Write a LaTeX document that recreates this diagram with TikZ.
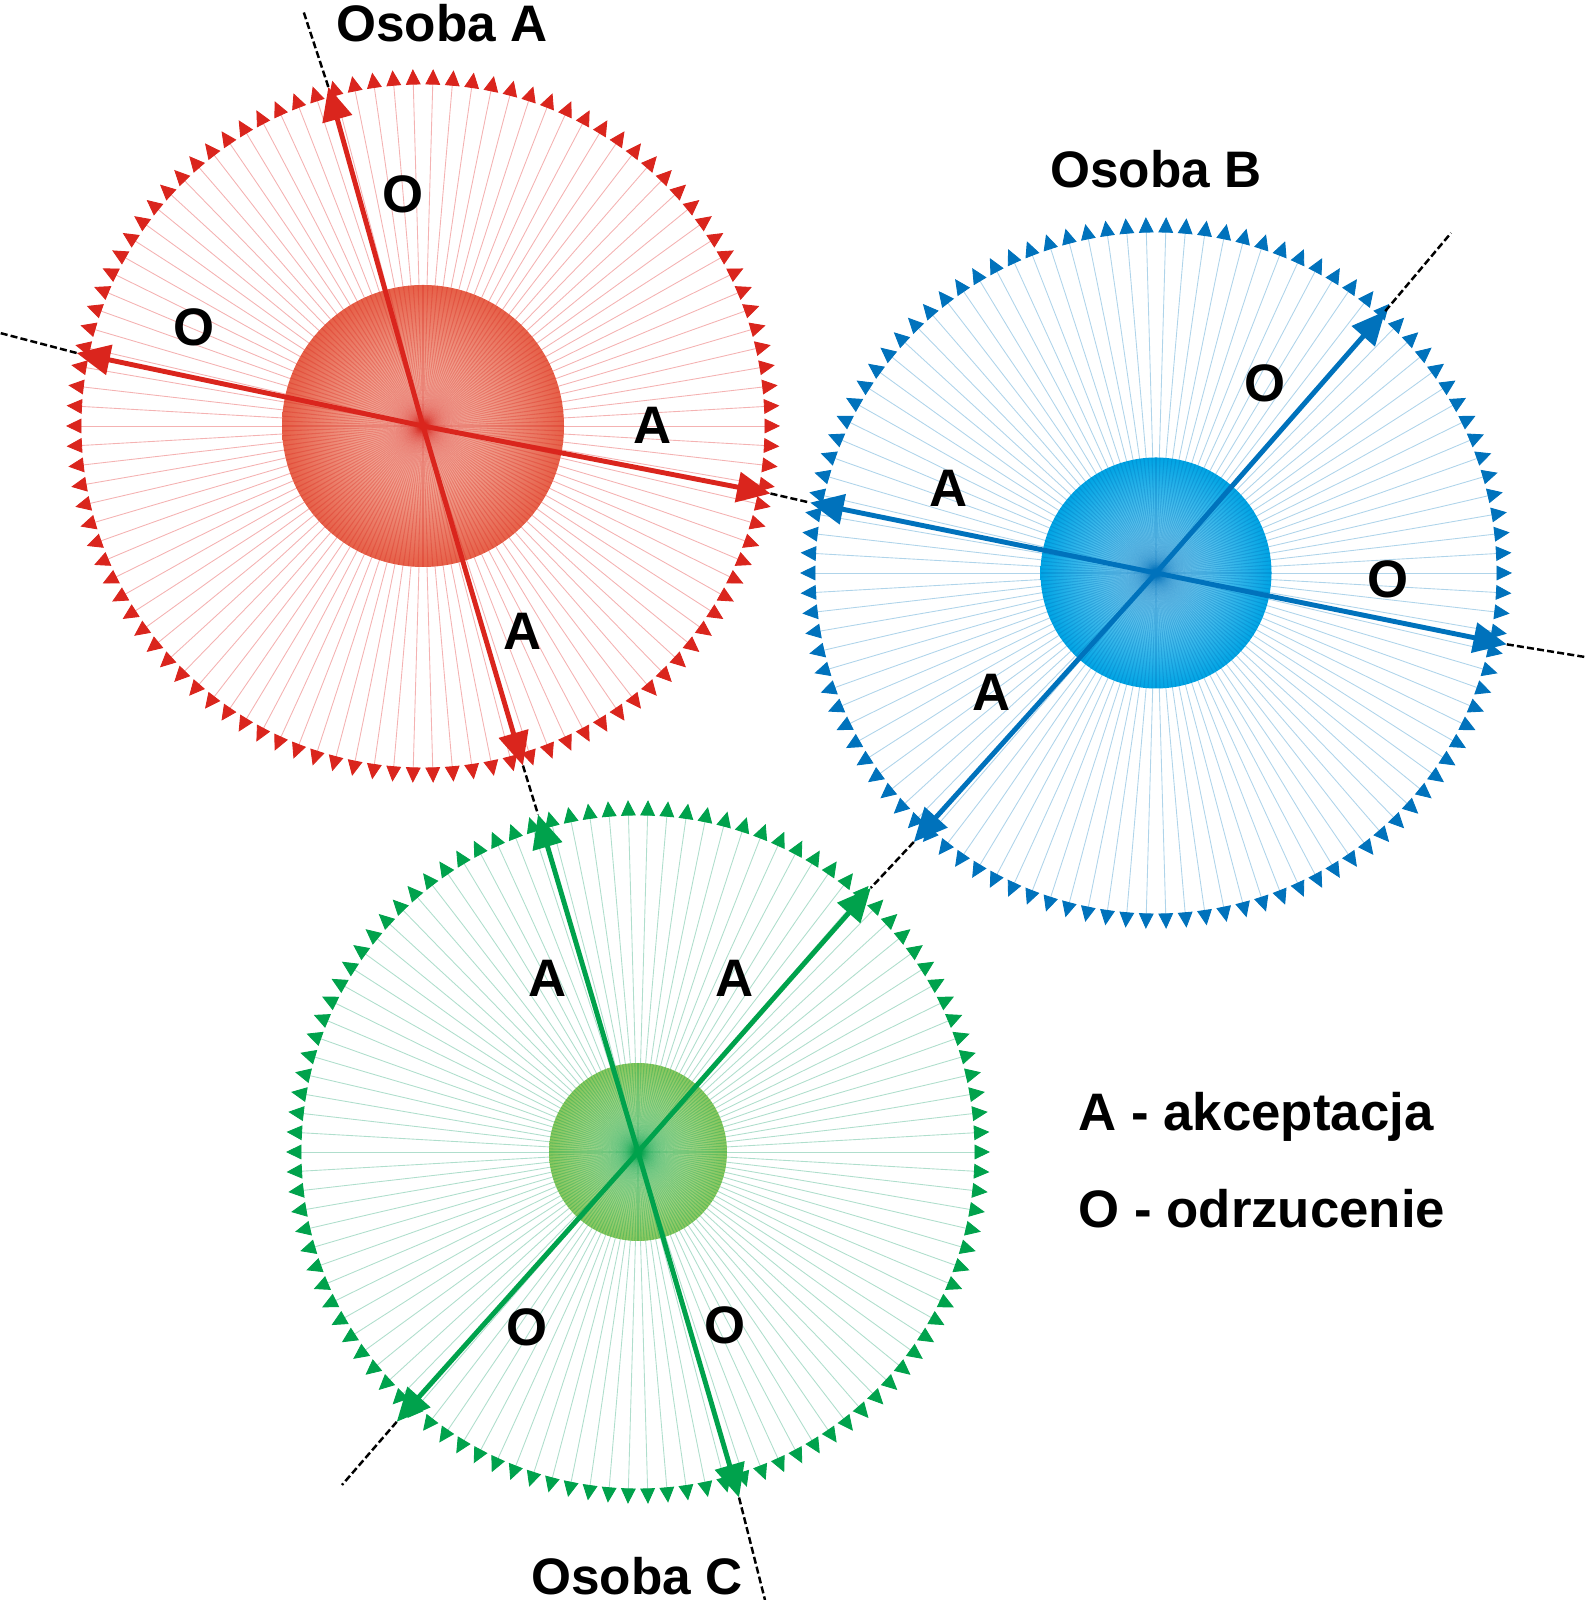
\documentclass[tikz,border=0pt]{standalone}
\usepackage{fontspec}
\setmainfont{Liberation Sans}
\usetikzlibrary{arrows.meta}

\definecolor{redA}{RGB}{218,37,29}
\definecolor{redL}{RGB}{230,96,72}
\definecolor{redC}{RGB}{250,214,202}
\definecolor{redS}{RGB}{244,178,178}
\definecolor{blueA}{RGB}{0,114,188}
\definecolor{blueL}{RGB}{0,164,228}
\definecolor{blueC}{RGB}{170,222,247}
\definecolor{blueS}{RGB}{175,212,234}
\definecolor{greenA}{RGB}{0,162,76}
\definecolor{greenL}{RGB}{136,198,92}
\definecolor{greenC}{RGB}{210,236,196}
\definecolor{greenS}{RGB}{175,222,204}

\begin{document}
\begin{tikzpicture}[
    x=0.01cm, y=0.01cm,
    szprycha/.style 2 args={line width=0.25pt, draw=#2, -{Triangle[length=4.4pt, width=4.2pt, color=#1]}},
    wewn/.style={line width=0.3pt, draw=#1, opacity=0.3},
    strzalka/.style={line width=1.4pt, draw=#1, -{Triangle[length=9.5pt, width=8.5pt, color=#1]}},
    przerywana/.style={draw=black, line width=0.7pt, dash pattern=on 2pt off 0.9pt},
    etykieta/.style={font=\fontsize{15}{18}\selectfont\bfseries, inner sep=0pt},
    osoba/.style={font=\fontsize{14.6}{18}\selectfont\bfseries, inner sep=0pt}
]
\useasboundingbox (0,0) rectangle (1586,1600);

% Osoba A
\coordinate (sA) at (423,1174);
\foreach \k in {0,...,109}
  \draw[szprycha={redA}{redS}] (sA) -- ++({\k/110*360}:357);
\shade[inner color=redC, outer color=redL] (sA) circle (141);
\begin{scope}
  \clip (sA) circle (141);
  \foreach \k in {0,...,179}
    \draw[wewn=redA] (sA) -- ++({\k*2}:141);
\end{scope}
\path (sA) +(105.6:352) coordinate (A1) +(168.1:354) coordinate (A2)
           +(-11:354) coordinate (A3) +(-73.6:354) coordinate (A4);
\draw[strzalka=redA] (sA) -- (A1);
\draw[strzalka=redA] (sA) -- (A2);
\draw[strzalka=redA] (sA) -- (A3);
\draw[strzalka=redA] (sA) -- (A4);

% Osoba B
\coordinate (sB) at (1156,1027);
\foreach \k in {0,...,109}
  \draw[szprycha={blueA}{blueS}] (sB) -- ++({\k/110*360}:356);
\shade[inner color=blueC, outer color=blueL] (sB) circle (115.5);
\begin{scope}
  \clip (sB) circle (115.5);
  \foreach \k in {0,...,179}
    \draw[wewn=blueA] (sB) -- ++({\k*2}:115.5);
\end{scope}
\path (sB) +(48.8:348) coordinate (B1) +(-11.5:358) coordinate (B2)
           +(168.5:353) coordinate (B3) +(228:362) coordinate (B4);
\draw[strzalka=blueA] (sB) -- (B1);
\draw[strzalka=blueA] (sB) -- (B2);
\draw[strzalka=blueA] (sB) -- (B3);
\draw[strzalka=blueA] (sB) -- (B4);

% Osoba C
\coordinate (sC) at (638,448);
\foreach \k in {0,...,109}
  \draw[szprycha={greenA}{greenS}] (sC) -- ++({\k/110*360}:352);
\shade[inner color=greenC, outer color=greenL] (sC) circle (89);
\begin{scope}
  \clip (sC) circle (89);
  \foreach \k in {0,...,179}
    \draw[wewn=greenA] (sC) -- ++({\k*2}:89);
\end{scope}
\path (sC) +(106.5:352) coordinate (C1) +(48.6:352) coordinate (C2)
           +(228.2:362) coordinate (C3) +(-73.7:360) coordinate (C4);
\draw[strzalka=greenA] (sC) -- (C1);
\draw[strzalka=greenA] (sC) -- (C2);
\draw[strzalka=greenA] (sC) -- (C3);
\draw[strzalka=greenA] (sC) -- (C4);

% linie przerywane
\coordinate (A1k) at (303,1590);
\coordinate (A2k) at (0,1267);
\coordinate (B1k) at (1451,1367);
\coordinate (B2k) at (1585,943);
\coordinate (C3k) at (342,115);
\coordinate (C4k) at (765,0);
\draw[przerywana] (A1) -- (A1k);
\draw[przerywana] (A2) -- (A2k);
\draw[przerywana] (A3) -- (B3);
\draw[przerywana] (A4) -- (C1);
\draw[przerywana] (B1) -- (B1k);
\draw[przerywana] (B2) -- (B2k);
\draw[przerywana] (B4) -- (C2);
\draw[przerywana] (C3) -- (C3k);
\draw[przerywana] (C4) -- (C4k);

% napisy
\node[osoba] (osobaA) at (442,1577) {Osoba A};
\node[osoba] (osobaB) at (1156,1431) {Osoba B};
\node[osoba] (osobaC) at (637,24) {Osoba C};

\node[etykieta] (tA1) at (403,1406) {O};
\node[etykieta] (tA2) at (194,1273) {O};
\node[etykieta] (tA3) at (653,1175) {A};
\node[etykieta] (tA4) at (523,969) {A};

\node[etykieta] (tB1) at (1265,1217) {O};
\node[etykieta] (tB2) at (1388,1021) {O};
\node[etykieta] (tB3) at (949,1112) {A};
\node[etykieta] (tB4) at (992,908) {A};

\node[etykieta] (tC1) at (548,622) {A};
\node[etykieta] (tC2) at (735,622) {A};
\node[etykieta] (tC3) at (527,273) {O};
\node[etykieta] (tC4) at (725,275) {O};

% legenda
\node[etykieta, anchor=base west] (legA) at (1078,469) {A - akceptacja};
\node[etykieta, anchor=base west] (legO) at (1078,372) {O - odrzucenie};

\end{tikzpicture}
\end{document}
